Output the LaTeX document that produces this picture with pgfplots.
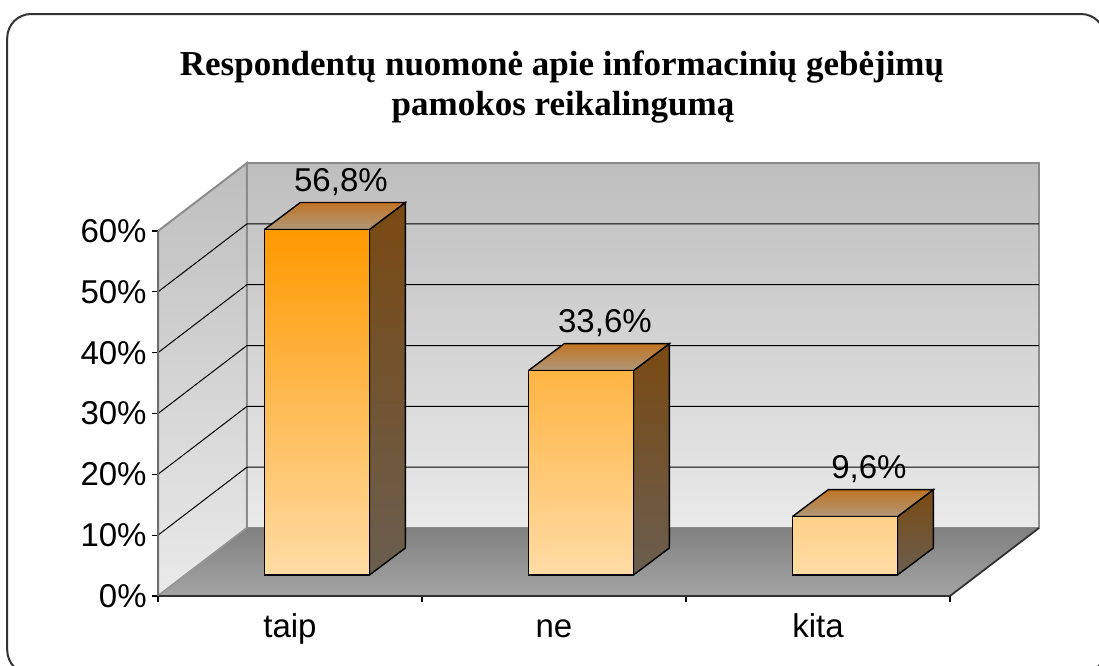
\documentclass[border=0pt]{standalone}
\usepackage{pgfplots}
\pgfplotsset{compat=1.18}
\usepackage{fontspec}
\setmainfont{Liberation Sans}
\newfontfamily\titlefont{Liberation Serif}
\pgfplotsset{/pgf/number format/assume math mode=true}

\definecolor{wallTop}{RGB}{190,190,190}
\definecolor{wallBot}{RGB}{234,234,234}
\definecolor{floorBack}{RGB}{128,128,128}
\definecolor{floorFront}{RGB}{164,164,164}
\definecolor{edgeGray}{RGB}{140,140,140}
\definecolor{barTop}{RGB}{255,153,0}
\definecolor{barMid}{RGB}{252,186,110}
\definecolor{barBot}{RGB}{255,220,165}
\definecolor{sideTop}{RGB}{122,74,18}
\definecolor{sideBot}{RGB}{106,94,80}
\definecolor{capBack}{RGB}{192,116,36}
\definecolor{capFront}{RGB}{176,152,122}
\definecolor{frameCol}{RGB}{51,51,51}

\begin{document}
\begin{tikzpicture}
\useasboundingbox (0,0) rectangle (549.5pt,-332.5pt);
\clip (0,0) rectangle (549.5pt,-332.5pt);
\draw[line width=1pt, frameCol, rounded corners=12pt] (3.6pt,-7pt) rectangle (552.5pt,-337pt);

\node[anchor=base, font=\titlefont\bfseries\fontsize{17.5}{20}\selectfont] at (281pt,-37.5pt) {Respondentų nuomonė apie informacinių gebėjimų};
\node[anchor=base, font=\titlefont\bfseries\fontsize{17.5}{20}\selectfont] at (281.5pt,-57.5pt) {pamokos reikalingumą};

% ---------- front plane: walls, floor, ticks, labels ----------
\begin{axis}[
  at={(79pt,-298pt)}, anchor=south west,
  scale only axis, width=396pt, height=182.5pt,
  xmin=-0.5, xmax=2.5, ymin=0, ymax=60,
  clip=false, axis on top,
  axis x line*=bottom, axis y line*=left,
  x axis line style={draw={rgb,255:red,50;green,50;blue,50}, line width=1pt},
  y axis line style={draw={rgb,255:red,110;green,110;blue,110}, line width=1pt},
  tick align=outside, major tick length=3pt,
  tick style={black, line width=0.6pt},
  ytick={0,10,20,30,40,50,60},
  yticklabel={\pgfmathprintnumber{\tick}\%},
  yticklabel style={anchor=east, inner sep=0pt, xshift=-2.5pt},
  xtick={-0.5,0.5,1.5,2.5}, xticklabels={},
  extra x ticks={0,1,2}, extra x tick labels={taip,ne,kita},
  extra x tick style={major tick length=0pt, xticklabel style={anchor=base, inner sep=0pt, yshift=-20.5pt}},
  tick label style={font=\fontsize{16.5}{18}\selectfont, black},
]
% back wall
\addplot[draw=edgeGray, line width=1pt, top color=wallTop, bottom color=wallBot]
  coordinates {(-0.163,11.18) (2.837,11.18) (2.837,71.18) (-0.163,71.18) (-0.163,11.18)};
% left wall
\addplot[draw=edgeGray, line width=1pt, top color=wallTop, bottom color=wallBot]
  coordinates {(-0.5,0) (-0.163,11.18) (-0.163,71.18) (-0.5,60) (-0.5,0)};
% gridlines
\addplot[black, line width=0.5pt] coordinates {(-0.5,10) (-0.163,21.18) (2.837,21.18)};
\addplot[black, line width=0.5pt] coordinates {(-0.5,20) (-0.163,31.18) (2.837,31.18)};
\addplot[black, line width=0.5pt] coordinates {(-0.5,30) (-0.163,41.18) (2.837,41.18)};
\addplot[black, line width=0.5pt] coordinates {(-0.5,40) (-0.163,51.18) (2.837,51.18)};
\addplot[black, line width=0.5pt] coordinates {(-0.5,50) (-0.163,61.18) (2.837,61.18)};
% floor
\addplot[draw=none, top color=floorBack, bottom color=floorFront]
  coordinates {(-0.5,0) (2.5,0) (2.837,11.18) (-0.163,11.18) (-0.5,0)};
\addplot[draw={rgb,255:red,50;green,50;blue,50}, line width=0.9pt]
  coordinates {(-0.5,0) (2.5,0) (2.837,11.18)};
\addplot[draw={rgb,255:red,150;green,150;blue,150}, line width=0.6pt]
  coordinates {(-0.5,0) (-0.163,11.18)};
\end{axis}

% ---------- bars ----------
\begin{axis}[
  at={(79pt,-298pt)}, anchor=south west,
  scale only axis, width=396pt, height=182.5pt,
  xmin=-0.602, xmax=2.398, ymin=-3.452, ymax=56.548,
  hide axis, clip=false,
]
% side faces
\addplot[draw=black, line width=0.7pt, top color=sideTop, bottom color=sideBot]
  coordinates {(0.199,0) (0.335,4.44) (0.335,61.24) (0.199,56.8) (0.199,0)};
\addplot[draw=black, line width=0.7pt, top color=sideTop, bottom color=sideBot]
  coordinates {(1.199,0) (1.335,4.44) (1.335,38.04) (1.199,33.6) (1.199,0)};
\addplot[draw=black, line width=0.7pt, top color=sideTop, bottom color=sideBot]
  coordinates {(2.199,0) (2.335,4.44) (2.335,14.04) (2.199,9.6) (2.199,0)};
% top faces
\addplot[draw=black, line width=0.7pt, top color=capBack, bottom color=capFront]
  coordinates {(-0.199,56.8) (0.199,56.8) (0.335,61.24) (-0.063,61.24) (-0.199,56.8)};
\addplot[draw=black, line width=0.7pt, top color=capBack, bottom color=capFront]
  coordinates {(0.801,33.6) (1.199,33.6) (1.335,38.04) (0.937,38.04) (0.801,33.6)};
\addplot[draw=black, line width=0.7pt, top color=capBack, bottom color=capFront]
  coordinates {(1.801,9.6) (2.199,9.6) (2.335,14.04) (1.937,14.04) (1.801,9.6)};
% front faces
\addplot[ybar, bar width=0.398, bar shift=0pt, draw=black, line width=0.7pt,
  top color=barTop, middle color=barMid, bottom color=barBot,
  nodes near coords={\pgfmathprintnumber[use comma,fixed,fixed zerofill,precision=1]{\pgfplotspointmeta}\%},
  every node near coord/.append style={font=\fontsize{16.5}{18}\selectfont, text=black, anchor=base, xshift=12pt, yshift=19pt},
] coordinates {(0,56.8) (1,33.6) (2,9.6)};
\end{axis}
\end{tikzpicture}
\end{document}
